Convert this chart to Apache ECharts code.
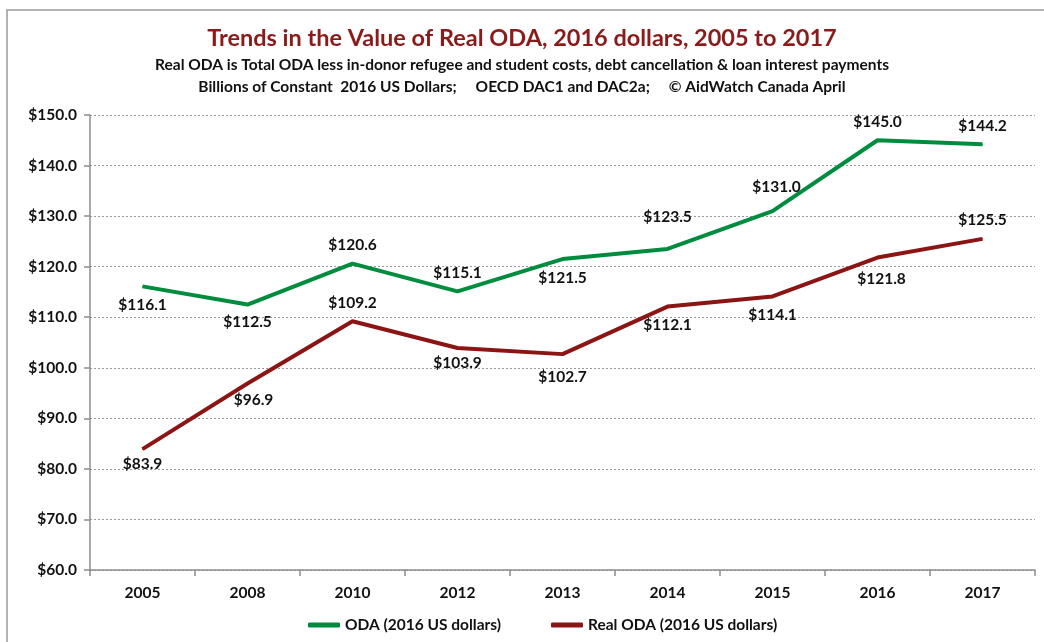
<!DOCTYPE html>
<html><head><meta charset="utf-8">
<script src="https://cdn.jsdelivr.net/npm/echarts@6/dist/echarts.min.js"></script>
<style>html,body{margin:0;padding:0;background:#fff}#c{width:1044px;height:642px}</style>
</head><body><div id="c"></div>
<script>
const categories = ['2005','2008','2010','2012','2013','2014','2015','2016','2017'];
const odaValues = [116.1,112.5,120.6,115.1,121.5,123.5,131.0,145.0,144.2];
const realOdaValues = [83.9,96.9,109.2,103.9,102.7,112.1,114.1,121.8,125.5];
const odaLabelPos = ['bottom','bottom','top','top','bottom','top','top','top','top'];
const realLabelPos = ['bottom','bottom','top','bottom','bottom','bottom','bottom','bottom','top'];
const yTicks = [60,70,80,90,100,110,120,130,140,150];

const FONT = 'Lato, "Open Sans", sans-serif';
const chart = echarts.init(document.getElementById('c'));
function mk(vals, pos, extra) {
  return vals.map((v,i)=>{
    const e = (extra&&extra[i])||[0,0];
    return {value:v,label:{position:pos[i],distance:10+(pos[i]==='top'?-e[1]:e[1]),padding:[0,0,0,e[0]*2]}};
  });
}
chart.setOption({
  animation:false,
  textStyle:{fontFamily:FONT},
  graphic:[{type:'rect',shape:{x:7,y:10,width:1050,height:650},style:{fill:'none',stroke:'#9a9a9a',lineWidth:1.5},silent:true}],
  title:[
    {text:'Trends in the Value of Real ODA, 2016 dollars, 2005 to 2017',left:'center',top:21,
     textStyle:{fontFamily:FONT,fontSize:23.5,fontWeight:'bold',color:'#8B1A1A'}},
    {text:'Real ODA is Total ODA less in-donor refugee and student costs, debt cancellation & loan interest payments',left:'center',top:52,
     textStyle:{fontFamily:FONT,fontSize:15.5,fontWeight:'bold',color:'#111'}},
    {text:'Billions of Constant  2016 US Dollars;     OECD DAC1 and DAC2a;     © AidWatch Canada April',left:'center',top:74,
     textStyle:{fontFamily:FONT,fontSize:15.5,fontWeight:'bold',color:'#111'}}
  ],
  legend:{bottom:4,left:303,itemWidth:32,itemHeight:5,itemGap:50,icon:'roundRect',
    textStyle:{fontFamily:FONT,fontSize:15.5,fontWeight:'bold',color:'#111'},
    data:['ODA (2016 US dollars)','Real ODA (2016 US dollars)']},
  grid:{left:90,right:9,top:115,bottom:72},
  xAxis:{type:'category',data:categories,boundaryGap:true,
    axisLine:{lineStyle:{color:'#8c8c8c',width:1.5}},
    axisTick:{show:true,length:6,lineStyle:{color:'#8c8c8c',width:1.5}},
    axisLabel:{fontFamily:FONT,fontSize:15.5,fontWeight:'bold',color:'#111',margin:15}},
  yAxis:{type:'value',min:60,max:150,interval:10,
    axisLine:{show:true,lineStyle:{color:'#8c8c8c',width:1.5}},
    axisTick:{show:true,length:6,lineStyle:{color:'#8c8c8c',width:1.5}},
    axisLabel:{fontFamily:FONT,fontSize:15.5,fontWeight:'bold',color:'#111',margin:13,
      formatter:v=>'$'+v.toFixed(1)},
    splitLine:{lineStyle:{color:'#999',type:[2,2],width:1}}},
  series:[
    {name:'ODA (2016 US dollars)',type:'line',symbol:'circle',symbolSize:1,showSymbol:true,itemStyle:{color:'#008C3E'},
     lineStyle:{width:4,color:'#008C3E'},
     label:{show:true,fontFamily:FONT,fontSize:15.5,fontWeight:'bold',color:'#111',distance:10,formatter:p=>'$'+p.value.toFixed(1)},
     data:mk(odaValues,odaLabelPos,{5:[0,-13],6:[4,-6],1:[0,-1]})},
    {name:'Real ODA (2016 US dollars)',type:'line',symbol:'circle',symbolSize:1,showSymbol:true,itemStyle:{color:'#8B1414'},
     lineStyle:{width:4,color:'#8B1414'},
     label:{show:true,fontFamily:FONT,fontSize:15.5,fontWeight:'bold',color:'#111',distance:10,formatter:p=>'$'+p.value.toFixed(1)},
     data:mk(realOdaValues,realLabelPos,{0:[0,-4],1:[6,-2],3:[0,-4],4:[0,4],7:[4,3]})}
  ]
});
</script></body></html>
